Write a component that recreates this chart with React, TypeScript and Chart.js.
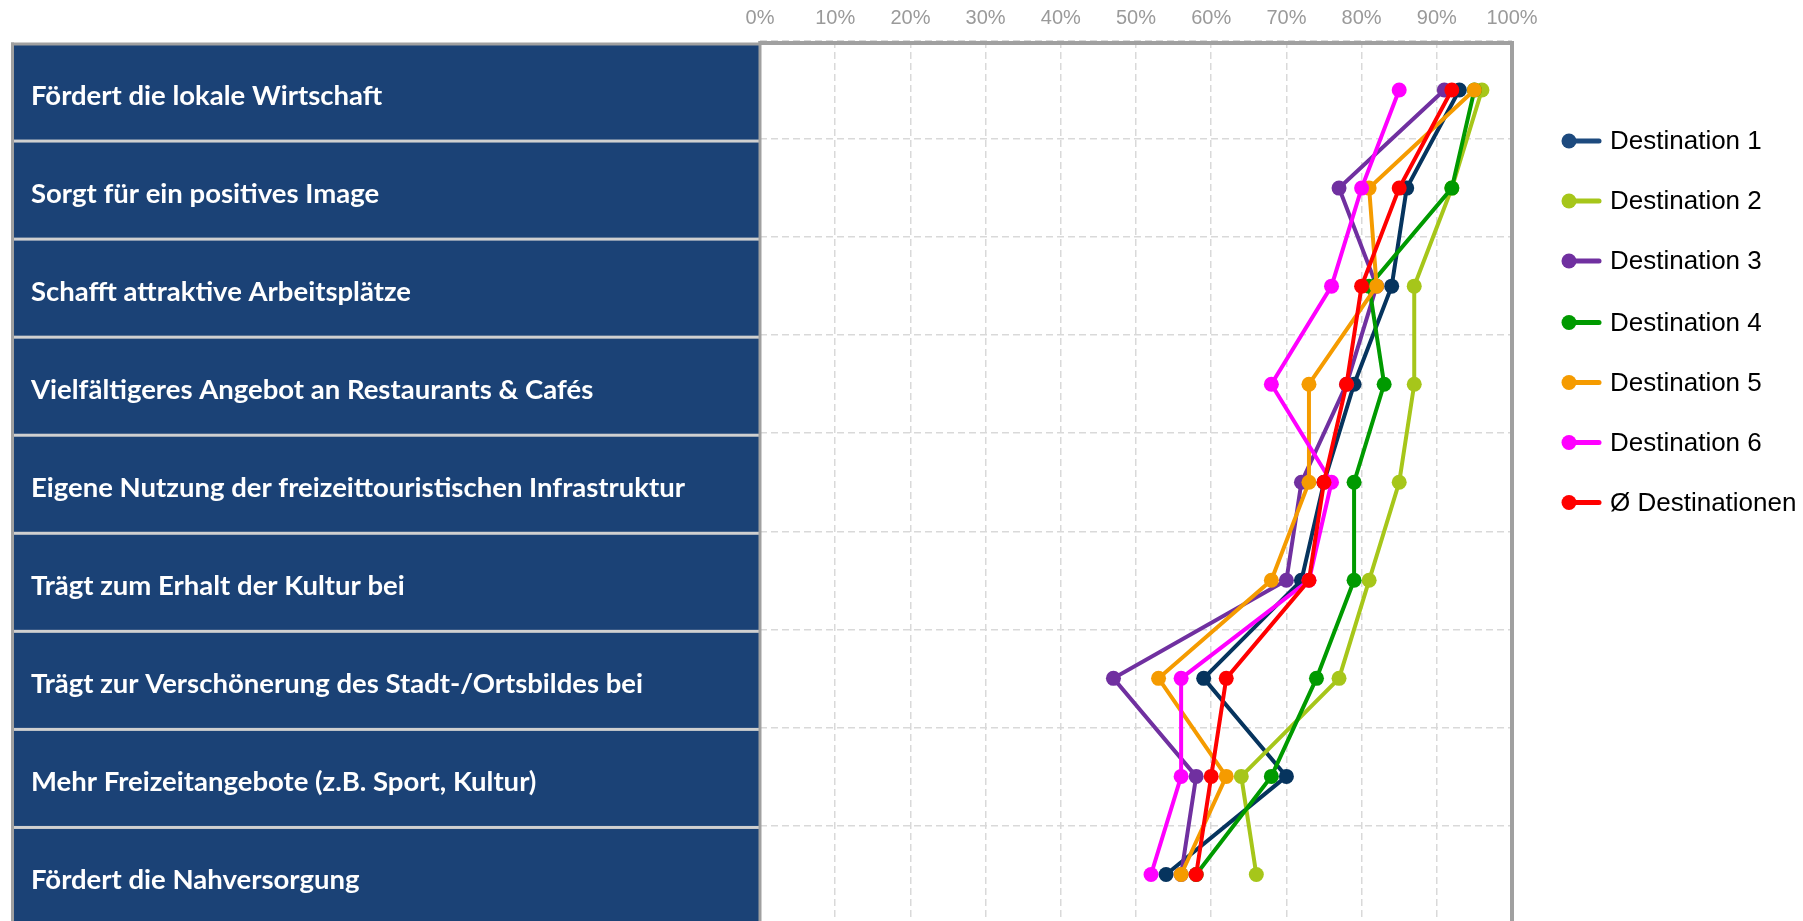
import React, { useEffect, useRef } from 'react';
import { Chart, registerables } from 'chart.js';

Chart.register(...registerables);

const categories = [
  'Fördert die lokale Wirtschaft',
  'Sorgt für ein positives Image',
  'Schafft attraktive Arbeitsplätze',
  'Vielfältigeres Angebot an Restaurants & Cafés',
  'Eigene Nutzung der freizeittouristischen Infrastruktur',
  'Trägt zum Erhalt der Kultur bei',
  'Trägt zur Verschönerung des Stadt-/Ortsbildes bei',
  'Mehr Freizeitangebote (z.B. Sport, Kultur)',
  'Fördert die Nahversorgung',
];

const seriesNames = [
  'Destination 1',
  'Destination 2',
  'Destination 3',
  'Destination 4',
  'Destination 5',
  'Destination 6',
  'Ø Destinationen',
];

const destination1 = [93, 86, 84, 79, 75, 72, 59, 70, 54];
const destination2 = [96, 92, 87, 87, 85, 81, 77, 64, 66];
const destination3 = [91, 77, 82, 78, 72, 70, 47, 58, 56];
const destination4 = [95, 92, 81, 83, 79, 79, 74, 68, 58];
const destination5 = [95, 81, 82, 73, 73, 68, 53, 62, 56];
const destination6 = [85, 80, 76, 68, 76, 73, 56, 56, 52];
const average = [92, 85, 80, 78, 75, 73, 62, 60, 58];

const seriesValues = [destination1, destination2, destination3, destination4, destination5, destination6, average];

const lineColors = ['#06345E', '#A6C61A', '#7030A0', '#009A00', '#F59B00', '#FF00FF', '#FF0000'];
const legendColors = ['#1D4A7E', '#A6C61A', '#7030A0', '#009A00', '#F59B00', '#FF00FF', '#FF0000'];

const xMin = 0;
const xMax = 100;
const xStep = 10;

const panelPlugin = {
  id: 'panelPlugin',
  beforeDraw(chart: any) {
    const ctx = chart.ctx;
    const { left, top, bottom } = chart.chartArea;
    const n = categories.length;
    const band = (bottom - top) / n;
    const pL = 11;
    ctx.save();
    ctx.fillStyle = '#1B4276';
    ctx.fillRect(pL, top + 2, left - pL, bottom - top + 10);
    ctx.fillStyle = '#D0D0D0';
    for (let k = 1; k < n; k++) {
      const y = top + k * band + 2;
      ctx.fillRect(pL + 3, y - 1.5, left - pL - 3, 3);
    }
    ctx.fillStyle = '#A0A0A0';
    ctx.fillRect(pL, top + 1.5, left - pL, 3);
    ctx.fillRect(pL, top + 1.5, 3, bottom - top + 20);
    ctx.restore();
  },
  afterDraw(chart: any) {
    const ctx = chart.ctx;
    const { left, right, top, bottom } = chart.chartArea;
    ctx.save();
    ctx.fillStyle = '#A0A0A0';
    ctx.fillRect(left - 1.5, top, right - left + 3, 4);
    ctx.fillRect(right - 2, top, 4, bottom - top + 20);
    ctx.fillRect(left - 1.5, top, 3, bottom - top + 20);

    // legend
    const lx = 1569;
    const ly0 = 141;
    const step = 60;
    ctx.font = '26px "Liberation Sans", Arial, sans-serif';
    ctx.textBaseline = 'middle';
    ctx.textAlign = 'left';
    seriesNames.forEach((name, i) => {
      const y = ly0 + i * step + (i >= 3 ? 1.5 : 0);
      ctx.strokeStyle = legendColors[i];
      ctx.lineWidth = 5;
      ctx.lineCap = 'round';
      ctx.beginPath();
      ctx.moveTo(lx, y);
      ctx.lineTo(lx + 30, y);
      ctx.stroke();
      ctx.fillStyle = legendColors[i];
      ctx.beginPath();
      ctx.arc(lx, y, 7.5, 0, Math.PI * 2);
      ctx.fill();
      ctx.fillStyle = '#000000';
      ctx.fillText(name, lx + 41, y + 1);
    });
    ctx.restore();
  },
};

export default function App() {
  const ref = useRef<HTMLCanvasElement>(null);

  useEffect(() => {
    const datasets = seriesNames.map((name, i) => ({
      label: name,
      data: seriesValues[i],
      borderColor: lineColors[i],
      backgroundColor: lineColors[i],
      pointBackgroundColor: lineColors[i],
      pointBorderColor: lineColors[i],
      borderWidth: 4,
      pointRadius: 7.5,
      pointBorderWidth: 0,
      tension: 0,
      fill: false,
      order: seriesNames.length - i,
    }));

    const chart = new Chart(ref.current as HTMLCanvasElement, {
      type: 'line',
      data: { labels: categories, datasets },
      plugins: [panelPlugin],
      options: {
        indexAxis: 'y',
        responsive: false,
        animation: false,
        devicePixelRatio: 1,
        layout: { padding: { left: 31, right: 291, top: 0, bottom: 15 } },
        plugins: { legend: { display: false }, tooltip: { enabled: false } },
        scales: {
          x: {
            type: 'linear',
            position: 'top',
            min: xMin,
            max: xMax,
            afterFit: (s: any) => { s.height = 41; },
            ticks: {
              stepSize: xStep,
              padding: 11,
              color: '#9A9A9A',
              font: { family: '"Liberation Sans", Arial, sans-serif', size: 20 },
              callback: (v: any) => `${v}%`,
            },
            grid: { color: '#D9D9D9', lineWidth: 1.5, drawTicks: false },
            border: { display: false, dash: [7, 4] },
          },
          y: {
            type: 'category',
            offset: true,
            afterFit: (s: any) => { s.width = 760 - 31; },
            ticks: {
              autoSkip: false,
              color: '#FFFFFF',
              crossAlign: 'far',
              labelOffset: 6,
              padding: 0,
              font: { family: 'Lato, "Open Sans", sans-serif', size: 27.5, weight: 'bold' },
            },
            grid: { color: '#D9D9D9', lineWidth: 1.5, drawTicks: false, offset: true },
            border: { display: false, dash: [7, 4] },
          },
        },
      } as any,
    });
    return () => chart.destroy();
  }, []);

  return (
    <div style={{ position: 'absolute', left: 0, top: 0, width: 1803, height: 921, overflow: 'hidden', background: '#ffffff' }}>
      <canvas ref={ref} width={1803} height={940} style={{ display: 'block', width: 1803, height: 940 }} />
    </div>
  );
}
